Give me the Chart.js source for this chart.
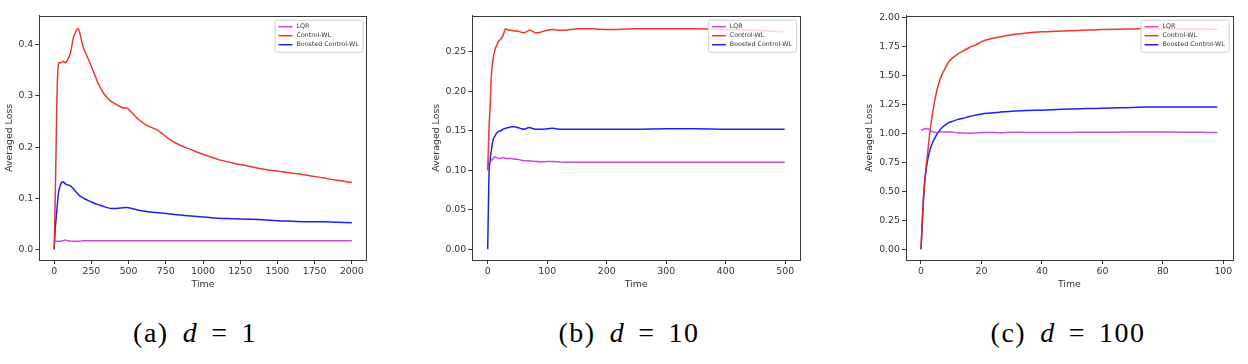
<!DOCTYPE html>
<html>
<head>
<meta charset="utf-8">
<script src="https://cdn.jsdelivr.net/npm/chart.js@4.4.0/dist/chart.umd.min.js"></script>
<style>
  body { margin: 0; width: 1248px; height: 364px; background: #fff; position: relative; overflow: hidden; }
  .panel { position: absolute; top: 0; height: 300px; }
  .cap { position: absolute; top: 318px; width: 300px; height: 32px; line-height: 30px;
         display: flex; justify-content: center; font-family: 'Liberation Serif', serif;
         font-size: 28px; color: #000; letter-spacing: 1.5px; }
  .cap span { display: inline-block; }
  .cap .inner { display: flex; }
  .cap i { margin-left: 14px; margin-right: 13px; }
  .cap .eq { margin-right: 13px; }
</style>
</head>
<body>
<div class="panel" style="left:0px;width:415px"><canvas id="chartA"></canvas></div>
<div class="panel" style="left:427px;width:408px"><canvas id="chartB"></canvas></div>
<div class="panel" style="left:860px;width:388px"><canvas id="chartC"></canvas></div>

<div class="cap" style="left:45px"><div class="inner"><span>(a)</span><i>d</i><span class="eq">=</span><span>1</span></div></div>
<div class="cap" style="left:479px"><div class="inner"><span>(b)</span><i>d</i><span class="eq">=</span><span>10</span></div></div>
<div class="cap" style="left:918px"><div class="inner"><span>(c)</span><i>d</i><span class="eq">=</span><span>100</span></div></div>

<script>
// series names and colours
const seriesNames = ['LQR', 'Control-WL', 'Boosted Control-WL'];
const seriesColors = ['rgba(190,60,205,0.9)', 'rgba(236,38,28,0.92)', 'rgba(18,18,245,0.95)'];

// (a) d = 1
const timeA = [0, 7, 13, 18, 25, 30, 45, 60, 75, 90, 110, 130, 150, 160, 175, 190, 210, 240, 270, 300,
  340, 380, 420, 460, 490, 520, 560, 620, 680, 720, 780, 850, 920, 1000, 1100, 1200, 1300, 1400,
  1500, 1600, 1700, 1800, 1900, 2000];
const lqrA = [0.018, 0.016, 0.016, 0.016, 0.016, 0.016, 0.016, 0.017, 0.018, 0.017, 0.016, 0.016, 0.016,
  0.016, 0.016, 0.017, 0.017, 0.017, 0.017, 0.017, 0.017, 0.017, 0.017, 0.017, 0.017, 0.017, 0.017,
  0.017, 0.017, 0.017, 0.017, 0.017, 0.017, 0.017, 0.017, 0.017, 0.017, 0.017, 0.017, 0.017, 0.017,
  0.017, 0.017, 0.017];
const ctrlA = [0, 0.10, 0.20, 0.29, 0.35, 0.365, 0.365, 0.368, 0.365, 0.37, 0.385, 0.415, 0.428, 0.432,
  0.42, 0.40, 0.385, 0.365, 0.343, 0.322, 0.302, 0.29, 0.283, 0.277, 0.276, 0.268, 0.256, 0.243,
  0.235, 0.228, 0.214, 0.203, 0.195, 0.186, 0.176, 0.169, 0.163, 0.157, 0.153, 0.149, 0.145, 0.140,
  0.135, 0.131];
const boostA = [0, 0.04, 0.06, 0.077, 0.10, 0.113, 0.128, 0.132, 0.128, 0.126, 0.124, 0.118, 0.111, 0.108,
  0.104, 0.101, 0.098, 0.094, 0.090, 0.087, 0.083, 0.080, 0.080, 0.0815, 0.082, 0.080, 0.077, 0.074,
  0.072, 0.071, 0.069, 0.067, 0.065, 0.063, 0.061, 0.060, 0.059, 0.058, 0.056, 0.055, 0.054, 0.054,
  0.053, 0.052];
const xTicksA = [0, 250, 500, 750, 1000, 1250, 1500, 1750, 2000];
const yTicksA = [0.0, 0.1, 0.2, 0.3, 0.4];

// (b) d = 10
const timeB = [0, 2, 4, 6, 9, 12, 15, 18, 22, 26, 30, 35, 40, 45, 50, 55, 60, 65, 70, 75, 80, 85, 90,
  100, 110, 120, 130, 150, 175, 200, 250, 300, 350, 400, 450, 499];
const lqrB = [0.10, 0.111, 0.111, 0.112, 0.115, 0.117, 0.116, 0.115, 0.115, 0.116, 0.115, 0.115, 0.115,
  0.114, 0.114, 0.113, 0.112, 0.112, 0.112, 0.1115, 0.111, 0.111, 0.1105, 0.111, 0.111, 0.1105, 0.110,
  0.110, 0.110, 0.110, 0.110, 0.110, 0.110, 0.110, 0.110, 0.110];
const ctrlB = [0.10, 0.15, 0.18, 0.218, 0.24, 0.252, 0.258, 0.263, 0.266, 0.271, 0.279, 0.277, 0.277,
  0.276, 0.276, 0.275, 0.274, 0.275, 0.277, 0.276, 0.274, 0.274, 0.275, 0.277, 0.278, 0.277, 0.277,
  0.279, 0.279, 0.278, 0.279, 0.279, 0.279, 0.278, 0.277, 0.275];
const boostB = [0, 0.09, 0.113, 0.125, 0.138, 0.143, 0.147, 0.149, 0.150, 0.152, 0.153, 0.154, 0.155,
  0.155, 0.154, 0.153, 0.152, 0.153, 0.154, 0.153, 0.152, 0.152, 0.152, 0.1525, 0.153, 0.152, 0.152,
  0.152, 0.152, 0.152, 0.152, 0.1525, 0.1525, 0.152, 0.152, 0.152];
const xTicksB = [0, 100, 200, 300, 400, 500];
const yTicksB = [0.00, 0.05, 0.10, 0.15, 0.20, 0.25];

// (c) d = 100
const timeC = [0, 1, 2, 3, 4, 5, 6, 7, 8, 9, 10, 12, 14, 16, 18, 20, 23, 26, 30, 35, 40, 45, 50, 55,
  60, 65, 70, 75, 80, 85, 90, 95, 98];
const lqrC = [1.025, 1.038, 1.042, 1.03, 1.012, 1.008, 1.01, 1.012, 1.012, 1.012, 1.012, 1.005, 1.002,
  1.001, 1.004, 1.008, 1.008, 1.006, 1.009, 1.008, 1.008, 1.007, 1.008, 1.009, 1.009, 1.010, 1.011,
  1.012, 1.011, 1.010, 1.009, 1.008, 1.008];
const ctrlC = [0, 0.5, 0.78, 1.02, 1.2, 1.34, 1.44, 1.51, 1.56, 1.61, 1.64, 1.68, 1.71, 1.74, 1.76,
  1.79, 1.815, 1.83, 1.85, 1.865, 1.875, 1.88, 1.885, 1.89, 1.895, 1.898, 1.90, 1.902, 1.902, 1.90,
  1.899, 1.898, 1.897];
const boostC = [0, 0.52, 0.74, 0.86, 0.93, 0.98, 1.02, 1.05, 1.07, 1.09, 1.10, 1.118, 1.13, 1.145, 1.157,
  1.167, 1.175, 1.182, 1.19, 1.196, 1.20, 1.205, 1.21, 1.213, 1.217, 1.22, 1.223, 1.226, 1.227, 1.227,
  1.226, 1.226, 1.226];
const xTicksC = [0, 20, 40, 60, 80, 100];
const yTicksC = [0.00, 0.25, 0.50, 0.75, 1.00, 1.25, 1.50, 1.75, 2.00];

const tickFont = { family: 'DejaVu Sans', size: 9.4 };

// frame round the plot area plus a matplotlib-like legend box
const framePlugin = {
  id: 'frame',
  afterDatasetsDraw(chart) {
    const { ctx, chartArea: a } = chart;
    ctx.save();
    ctx.strokeStyle = '#3a3a3a';
    ctx.lineWidth = 1;
    ctx.strokeRect(Math.round(a.left) + 0.5, Math.round(a.top) + 0.5,
      Math.round(a.right - a.left), Math.round(a.bottom - a.top));

    // legend
    ctx.font = '6.3px "DejaVu Sans"';
    const sets = chart.data.datasets;
    let tw = 0;
    sets.forEach(d => { tw = Math.max(tw, ctx.measureText(d.label).width); });
    const w = tw + 26, h = 32;
    const x = a.right - 4 - w, y = a.top + 4;
    ctx.fillStyle = 'rgba(255,255,255,0.8)';
    ctx.strokeStyle = '#cfcfcf';
    ctx.beginPath();
    ctx.roundRect(x + 0.5, y + 0.5, w, h, 2);
    ctx.fill();
    ctx.stroke();
    sets.forEach((d, i) => {
      const cy = y + 7 + i * 9;
      ctx.strokeStyle = d.borderColor;
      ctx.lineWidth = 1.5;
      ctx.beginPath();
      ctx.moveTo(x + 4, cy);
      ctx.lineTo(x + 18, cy);
      ctx.stroke();
      ctx.fillStyle = '#333';
      ctx.textBaseline = 'middle';
      ctx.fillText(d.label, x + 22, cy);
    });
    ctx.restore();
  }
};

function makeChart(id, times, series, xr, yr, xTicks, yTicks, yDigits, yWidth, padRight) {
  const datasets = series.map((vals, i) => ({
    label: seriesNames[i],
    data: times.map((t, k) => ({ x: t, y: vals[k] })),
    borderColor: seriesColors[i],
    borderWidth: 1.5,
    pointRadius: 0,
    cubicInterpolationMode: 'monotone',
    fill: false
  }));
  const axisCommon = {
    type: 'linear',
    grid: { drawOnChartArea: false, drawTicks: true, tickLength: 4, color: '#333' },
    border: { display: true, color: '#3a3a3a' },
    ticks: { color: '#333', font: tickFont, padding: 2, maxRotation: 0, autoSkip: false },
    title: { display: true, color: '#333', font: tickFont, padding: { top: 4, bottom: 4 } }
  };
  return new Chart(document.getElementById(id), {
    type: 'line',
    data: { datasets },
    options: {
      responsive: true,
      maintainAspectRatio: false,
      animation: false,
      layout: { padding: { left: 0, top: 15.7, right: padRight, bottom: 6 } },
      plugins: { legend: { display: false }, tooltip: { enabled: false } },
      scales: {
        x: {
          ...axisCommon,
          min: xr[0], max: xr[1],
          title: { ...axisCommon.title, text: 'Time' },
          afterBuildTicks: s => { s.ticks = xTicks.map(v => ({ value: v })); },
          ticks: { ...axisCommon.ticks, callback: v => String(v) },
          afterFit: s => { s.height = 34; }
        },
        y: {
          ...axisCommon,
          min: yr[0], max: yr[1],
          title: { ...axisCommon.title, text: 'Averaged Loss' },
          afterBuildTicks: s => { s.ticks = yTicks.map(v => ({ value: v })); },
          ticks: { ...axisCommon.ticks, callback: v => Number(v).toFixed(yDigits) },
          afterFit: s => { s.width = yWidth; }
        }
      }
    },
    plugins: [framePlugin]
  });
}

makeChart('chartA', timeA, [lqrA, ctrlA, boostA], [-100, 2100], [-0.0209, 0.457], xTicksA, yTicksA, 1, 39.3, 48.3);
makeChart('chartB', timeB, [lqrB, ctrlB, boostB], [-25.9, 524.7], [-0.0135, 0.2955], xTicksB, yTicksB, 2, 45.3, 35);
makeChart('chartC', timeC, [lqrC, ctrlC, boostC], [-4.96, 103.1], [-0.092, 2.014], xTicksC, yTicksC, 2, 46, 15.3);
</script>
</body>
</html>
